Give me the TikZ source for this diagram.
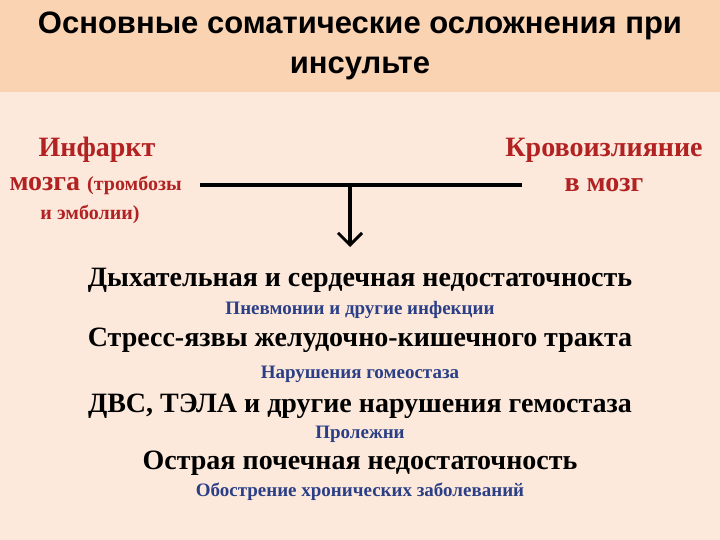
\documentclass[tikz,border=0pt]{standalone}
\usepackage{fontspec}
\setmainfont{Liberation Serif}
\setsansfont{Liberation Sans}
\usetikzlibrary{arrows.meta}
\definecolor{bg}{HTML}{FCE9DC}
\definecolor{band}{HTML}{FAD3B3}
\definecolor{dred}{HTML}{B22222}
\definecolor{dblue}{HTML}{2B3F86}
\tikzset{x=1pt,y=-1pt,
 main/.style={font=\bfseries\fontsize{28}{30}\selectfont,text=black},
 sub/.style={font=\bfseries\fontsize{19}{21}\selectfont,text=dblue},
 red/.style={font=\bfseries\fontsize{28}{30}\selectfont,text=dred}}
\begin{document}
\begin{tikzpicture}
\fill[bg] (0,0) rectangle (720,540);
\useasboundingbox (0,0) rectangle (720,540);
\fill[band] (0,0) rectangle (720,92);
\node[font=\sffamily\bfseries\fontsize{31}{40}\selectfont,align=center] (title) at (360,46) {Основные соматические осложнения при\\инсульте};
\node[red] (l1) at (97,150) {Инфаркт};
\node[red,anchor=west] (l2) at (6,185) {мозга \fontsize{20}{22}\selectfont(тромбозы};
\node[font=\bfseries\fontsize{20}{22}\selectfont,text=dred] (l3) at (90,214) {и эмболии)};
\node[red] (r1) at (604,150) {Кровоизлияние};
\node[red] (r2) at (604,185) {в мозг};
\coordinate (a) at (200,185); \coordinate (b) at (522,185);
\coordinate (c) at (350,185); \coordinate (d) at (350,247);
\draw[line width=4pt] (a) -- (b);
\draw[line width=4pt,-{Straight Barb[length=12pt,width=24pt,line width=3pt]}] (c) -- (d);
\node[main] (t1) at (360,280) {Дыхательная и сердечная недостаточность};
\node[sub] (s1) at (360,310) {Пневмонии и другие инфекции};
\node[main] (t2) at (360,340) {Стресс-язвы желудочно-кишечного тракта};
\node[sub] (s2) at (360,374) {Нарушения гомеостаза};
\node[main] (t3) at (360,406) {ДВС, ТЭЛА и другие нарушения гемостаза};
\node[sub] (s3) at (360,434) {Пролежни};
\node[main] (t4) at (360,463) {Острая почечная недостаточность};
\node[sub] (s4) at (360,492) {Обострение хронических заболеваний};
\end{tikzpicture}
\end{document}
